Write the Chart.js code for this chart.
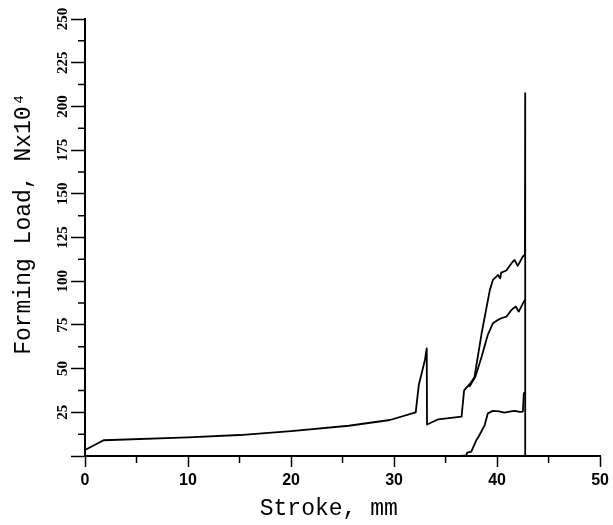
<!DOCTYPE html>
<html>
<head>
<meta charset="utf-8">
<script src="https://cdn.jsdelivr.net/npm/chart.js@4.4.1/dist/chart.umd.min.js"></script>
<style>
  body { margin: 0; background: #fff; }
  #wrap { width: 613px; height: 525px; }
</style>
</head>
<body>
<div id="wrap"><canvas id="grafico"></canvas></div>
<script>
// main load curve (with the upper branch and the final spike)
const mainX = [0, 1.8, 10, 15, 20, 25.6, 29.6, 32.1, 32.4, 33.0, 33.17, 33.2, 34.3, 36.55, 36.8, 37.4, 37.8, 38.5, 39.3, 39.6, 40.1, 40.3, 40.4, 40.9, 41.4, 41.7, 42.0, 42.5, 42.7, 42.73, 42.73];
const mainY = [3.4, 9.0, 10.7, 12.0, 14.2, 17.3, 20.6, 25.0, 40.6, 55.0, 61.6, 18.0, 21.0, 22.5, 37.5, 41.5, 45.0, 70.2, 95.0, 100.8, 103.6, 101.7, 104.9, 106.1, 110.3, 112.2, 108.8, 114.1, 115.1, 207.6, 0];

// middle branch
const midX = [37.3, 37.9, 38.5, 39.1, 39.6, 40.1, 40.4, 40.9, 41.4, 41.8, 42.1, 42.6, 42.73];
const midY = [39.5, 45.5, 56.8, 69.3, 76.0, 77.9, 78.8, 79.7, 83.6, 85.5, 82.6, 88.3, 89.3];

// lower curve
const lowX = [36.5, 37.0, 37.1, 37.5, 38.0, 38.2, 38.8, 39.1, 39.6, 40.2, 40.7, 41.2, 41.7, 42.2, 42.5, 42.6, 42.73];
const lowY = [0, 0.3, 1.9, 2.5, 9.2, 11.0, 17.7, 24.4, 25.8, 25.5, 24.8, 25.4, 25.8, 25.2, 25.4, 35.9, 36.5];

const xMinor = [5, 15, 25, 35, 45];
const yMinor = [12.5, 37.5, 62.5, 87.5, 112.5, 137.5, 162.5, 187.5, 212.5, 237.5];

function pontos(xs, ys) {
  return xs.map((x, i) => ({ x: x, y: ys[i] }));
}

function serie(xs, ys) {
  return {
    data: pontos(xs, ys),
    borderColor: '#000',
    borderWidth: 1.8,
    borderJoinStyle: 'round',
    pointRadius: 0,
    tension: 0,
    fill: false
  };
}

// short minor ticks, drawn through the scales
const minorTicks = {
  id: 'minorTicks',
  afterDraw(chart) {
    const ctx = chart.ctx;
    const xs = chart.scales.x;
    const ys = chart.scales.y;
    const area = chart.chartArea;
    ctx.save();
    ctx.strokeStyle = '#000';
    ctx.lineWidth = 1.5;
    ctx.beginPath();
    xMinor.forEach(v => {
      const px = xs.getPixelForValue(v);
      ctx.moveTo(px, area.bottom);
      ctx.lineTo(px, area.bottom + 7);
    });
    yMinor.forEach(v => {
      const py = ys.getPixelForValue(v);
      ctx.moveTo(area.left, py);
      ctx.lineTo(area.left - 7, py);
    });
    ctx.stroke();
    ctx.restore();
  }
};

new Chart(document.getElementById('grafico'), {
  type: 'line',
  data: {
    datasets: [serie(mainX, mainY), serie(midX, midY), serie(lowX, lowY)]
  },
  options: {
    responsive: true,
    maintainAspectRatio: false,
    animation: false,
    layout: { padding: { top: 19, right: 10, left: 0, bottom: 0 } },
    plugins: { legend: { display: false }, tooltip: { enabled: false } },
    scales: {
      x: {
        type: 'linear',
        min: 0,
        max: 50,
        afterFit: s => { s.height = 69; },
        ticks: {
          stepSize: 10,
          color: '#000',
          padding: 4,
          font: { family: 'Liberation Sans', size: 16, weight: 'bold' }
        },
        grid: { drawOnChartArea: false, drawTicks: true, tickLength: 11, tickColor: '#000', tickWidth: 1.5 },
        border: { display: true, color: '#000', width: 2 },
        title: {
          display: true,
          // trailing spaces move the text a little left, as in the original
          text: 'Stroke, mm  ',
          color: '#000',
          padding: { top: 0, bottom: 2 },
          font: { family: 'Liberation Mono', size: 23 }
        }
      },
      y: {
        min: 0,
        max: 250,
        afterFit: s => { s.width = 85; },
        ticks: {
          stepSize: 25,
          color: '#000',
          minRotation: 90,
          maxRotation: 90,
          crossAlign: 'center',
          padding: -3,
          callback: v => v === 0 ? '' : v,
          font: { family: 'Liberation Serif', size: 15, weight: 'bold' }
        },
        grid: { drawOnChartArea: false, drawTicks: true, tickLength: 14, tickColor: '#000', tickWidth: 1.5 },
        border: { display: true, color: '#000', width: 2 },
        title: {
          display: true,
          text: '  Forming Load, Nx10⁴',
          color: '#000',
          padding: { top: 10, bottom: 0 },
          font: { family: 'Liberation Mono', size: 23 }
        }
      }
    }
  },
  plugins: [minorTicks]
});
</script>
</body>
</html>
